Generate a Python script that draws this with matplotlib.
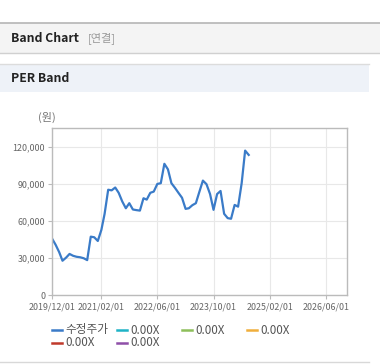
import matplotlib
matplotlib.use('Agg')
import matplotlib.pyplot as plt
from matplotlib.patches import Rectangle
from matplotlib.lines import Line2D
import pandas as pd

plt.rcParams['font.family'] = ['Noto Sans CJK KR', 'DejaVu Sans']

# 수정주가 (월별, 2019/12 ~ 2024/08)
prices = [46000, 41000, 35000, 28000, 30500, 33500, 32000, 31200, 30800, 30000,
          28500, 47500, 47000, 44000, 53000, 66000, 85500, 85000, 87300, 83000,
          76000, 70500, 74600, 69500, 69000, 68600, 78600, 77500, 83000, 84000,
          90200, 90800, 106500, 102000, 90800, 87000, 83000, 79000, 70000, 70500,
          73000, 74600, 84000, 92900, 90000, 82000, 69200, 82000, 84500, 66000,
          62500, 62000, 73200, 71800, 90800, 117200, 113700]
dates = pd.date_range('2019-12-01', periods=len(prices), freq='MS')

tick_labels = ['2019/12/01', '2021/02/01', '2022/06/01', '2023/10/01', '2025/02/01', '2026/06/01']
y_ticks = [0, 30000, 60000, 90000, 120000]

legend_labels = ['수정주가', '0.00X', '0.00X', '0.00X', '0.00X', '0.00X']
legend_colors = ['#3a7bc8', '#1fb3c6', '#8dbf5a', '#f0ae3c', '#c0392b', '#8e4fa8']

W, H = 380, 364
fig = plt.figure(figsize=(W / 100, H / 100), dpi=100)
fig.patch.set_facecolor('white')


def fx(px):
    return px / W


def fy(py):
    return 1 - py / H


# 상단 헤더
fig.patches.append(Rectangle((0, fy(53)), 1, fy(23) - fy(53), transform=fig.transFigure,
                             facecolor='#f4f4f4', edgecolor='none', zorder=0))
fig.add_artist(Line2D([0, 1], [fy(22.5), fy(22.5)], color='#b5b5b5', lw=1.2))
fig.add_artist(Line2D([0, 1], [fy(53), fy(53)], color='#d0d0d0', lw=1))
fig.text(fx(11), fy(38), 'Band Chart', fontsize=8.8, fontweight='bold', color='#222222', va='center')
fig.text(fx(88), fy(38), '[연결]', fontsize=8, color='#999999', va='center')

# PER Band 헤더
fig.patches.append(Rectangle((0, fy(92)), fx(369), fy(64) - fy(92), transform=fig.transFigure,
                             facecolor='#eef2f8', edgecolor='none', zorder=0))
fig.add_artist(Line2D([0, fx(369)], [fy(64), fy(64)], color='#dcdcdc', lw=1))
fig.text(fx(11), fy(79), 'PER Band', fontsize=8.8, fontweight='bold', color='#222222', va='center')
fig.add_artist(Line2D([0, fx(369)], [fy(362), fy(362)], color='#d8d8d8', lw=1))

fig.text(fx(47), fy(117), '(원)', fontsize=8, color='#777777', ha='center', va='center')

ax = fig.add_axes([fx(52), fy(295.3), fx(347) - fx(52), fy(128) - fy(295.3)])
ax.plot(dates, prices, color=legend_colors[0], lw=1.6)

ax.set_xlim(pd.Timestamp('2019-12-01'), pd.Timestamp('2026-12-01'))
ax.set_ylim(0, 135500)
ax.set_xticks([pd.Timestamp(t.replace('/', '-')) for t in tick_labels])
ax.set_xticklabels(tick_labels)
ax.set_yticks(y_ticks)
ax.set_yticklabels([f'{v:,}' for v in y_ticks])
ax.grid(True, color='#e8e8e8', lw=0.8)
ax.set_axisbelow(True)
for s in ax.spines.values():
    s.set_color('#bbbbbb')
    s.set_linewidth(1)
ax.tick_params(axis='both', colors='#bbbbbb', labelcolor='#666666', labelsize=6.4,
               length=3, width=0.8, pad=2)

# 범례
leg_pos = [(52, 330), (117, 330), (182, 330), (247, 330), (52, 343), (117, 343)]
for (px, py), lab, col in zip(leg_pos, legend_labels, legend_colors):
    fig.add_artist(Line2D([fx(px), fx(px + 10)], [fy(py), fy(py)], color=col, lw=1.8))
    fig.text(fx(px + 13), fy(py), lab, fontsize=8.4, color='#555555', va='center')

fig.savefig('out.png', dpi=100)
